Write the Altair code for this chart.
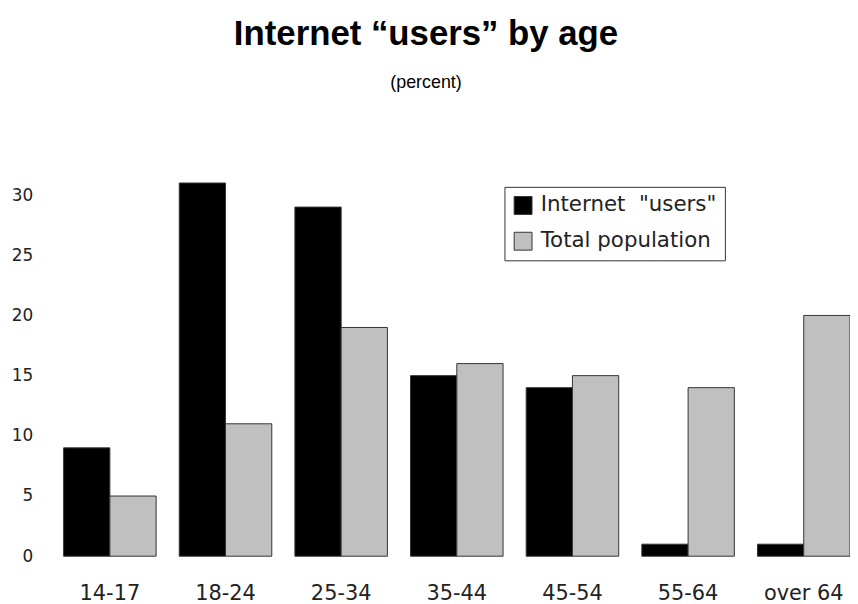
import altair as alt
import pandas as pd

ages = ["14-17", "18-24", "25-34", "35-44", "45-54", "55-64", "over 64"]
series = ['Internet\u00a0 "users"', "Total population"]
internet_users = [9, 31, 29, 15, 14, 1, 1]
total_population = [5, 11, 19, 16, 15, 14, 20]
y_ticks = [0, 5, 10, 15, 20, 25, 30]

rows = []
for a, v in zip(ages, internet_users):
    rows.append({"age": a, "series": series[0], "value": v})
for a, v in zip(ages, total_population):
    rows.append({"age": a, "series": series[1], "value": v})
df = pd.DataFrame(rows)

chart = alt.Chart(df).mark_bar(stroke="#333333", strokeWidth=1).encode(
    x=alt.X("age:N", sort=ages,
            scale=alt.Scale(paddingInner=0.2, paddingOuter=0),
            axis=alt.Axis(title=None, labelAngle=0, domain=False, ticks=False,
                          tickSize=0, labelFont="DejaVu Sans", labelFontSize=21,
                          labelColor="#222222", labelPadding=27)),
    xOffset=alt.XOffset("series:N", sort=series,
                        scale=alt.Scale(paddingInner=0, paddingOuter=0)),
    y=alt.Y("value:Q", scale=alt.Scale(domain=[0, 32], nice=False),
            axis=alt.Axis(title=None, values=y_ticks, grid=False, domain=False,
                          ticks=False, tickSize=0, labelPadding=31,
                          labelFont="DejaVu Sans", labelFontSize=17,
                          labelColor="#222222")),
    color=alt.Color("series:N", sort=series,
                    scale=alt.Scale(domain=series, range=["#000000", "#c0c0c0"]),
                    legend=alt.Legend(orient="none", legendX=444, legendY=16,
                                      title=None, strokeColor="#333333",
                                      fillColor="white", padding=8,
                                      symbolType="square", symbolSize=324,
                                      symbolStrokeColor="#333333",
                                      symbolStrokeWidth=1,
                                      labelFont="DejaVu Sans", labelFontSize=21.5,
                                      labelColor="#222222", labelLimit=0,
                                      rowPadding=13, labelOffset=7)),
).properties(
    width=792,
    height=388,
    autosize="none",
    padding={"left": 56, "top": 162, "right": 0, "bottom": 46},
    title=alt.TitleParams(
        text="Internet \u201cusers\u201d by age",
        subtitle="(percent)",
        font="Liberation Sans", fontSize=35, fontWeight="bold", color="#000000",
        subtitleFont="Liberation Sans", subtitleFontSize=18,
        subtitleColor="#000000", subtitlePadding=22,
        anchor="middle", dx=-31, offset=80,
    ),
).configure_view(stroke=None)

chart.save("out.html", embed_options={"renderer": "svg", "actions": False})
